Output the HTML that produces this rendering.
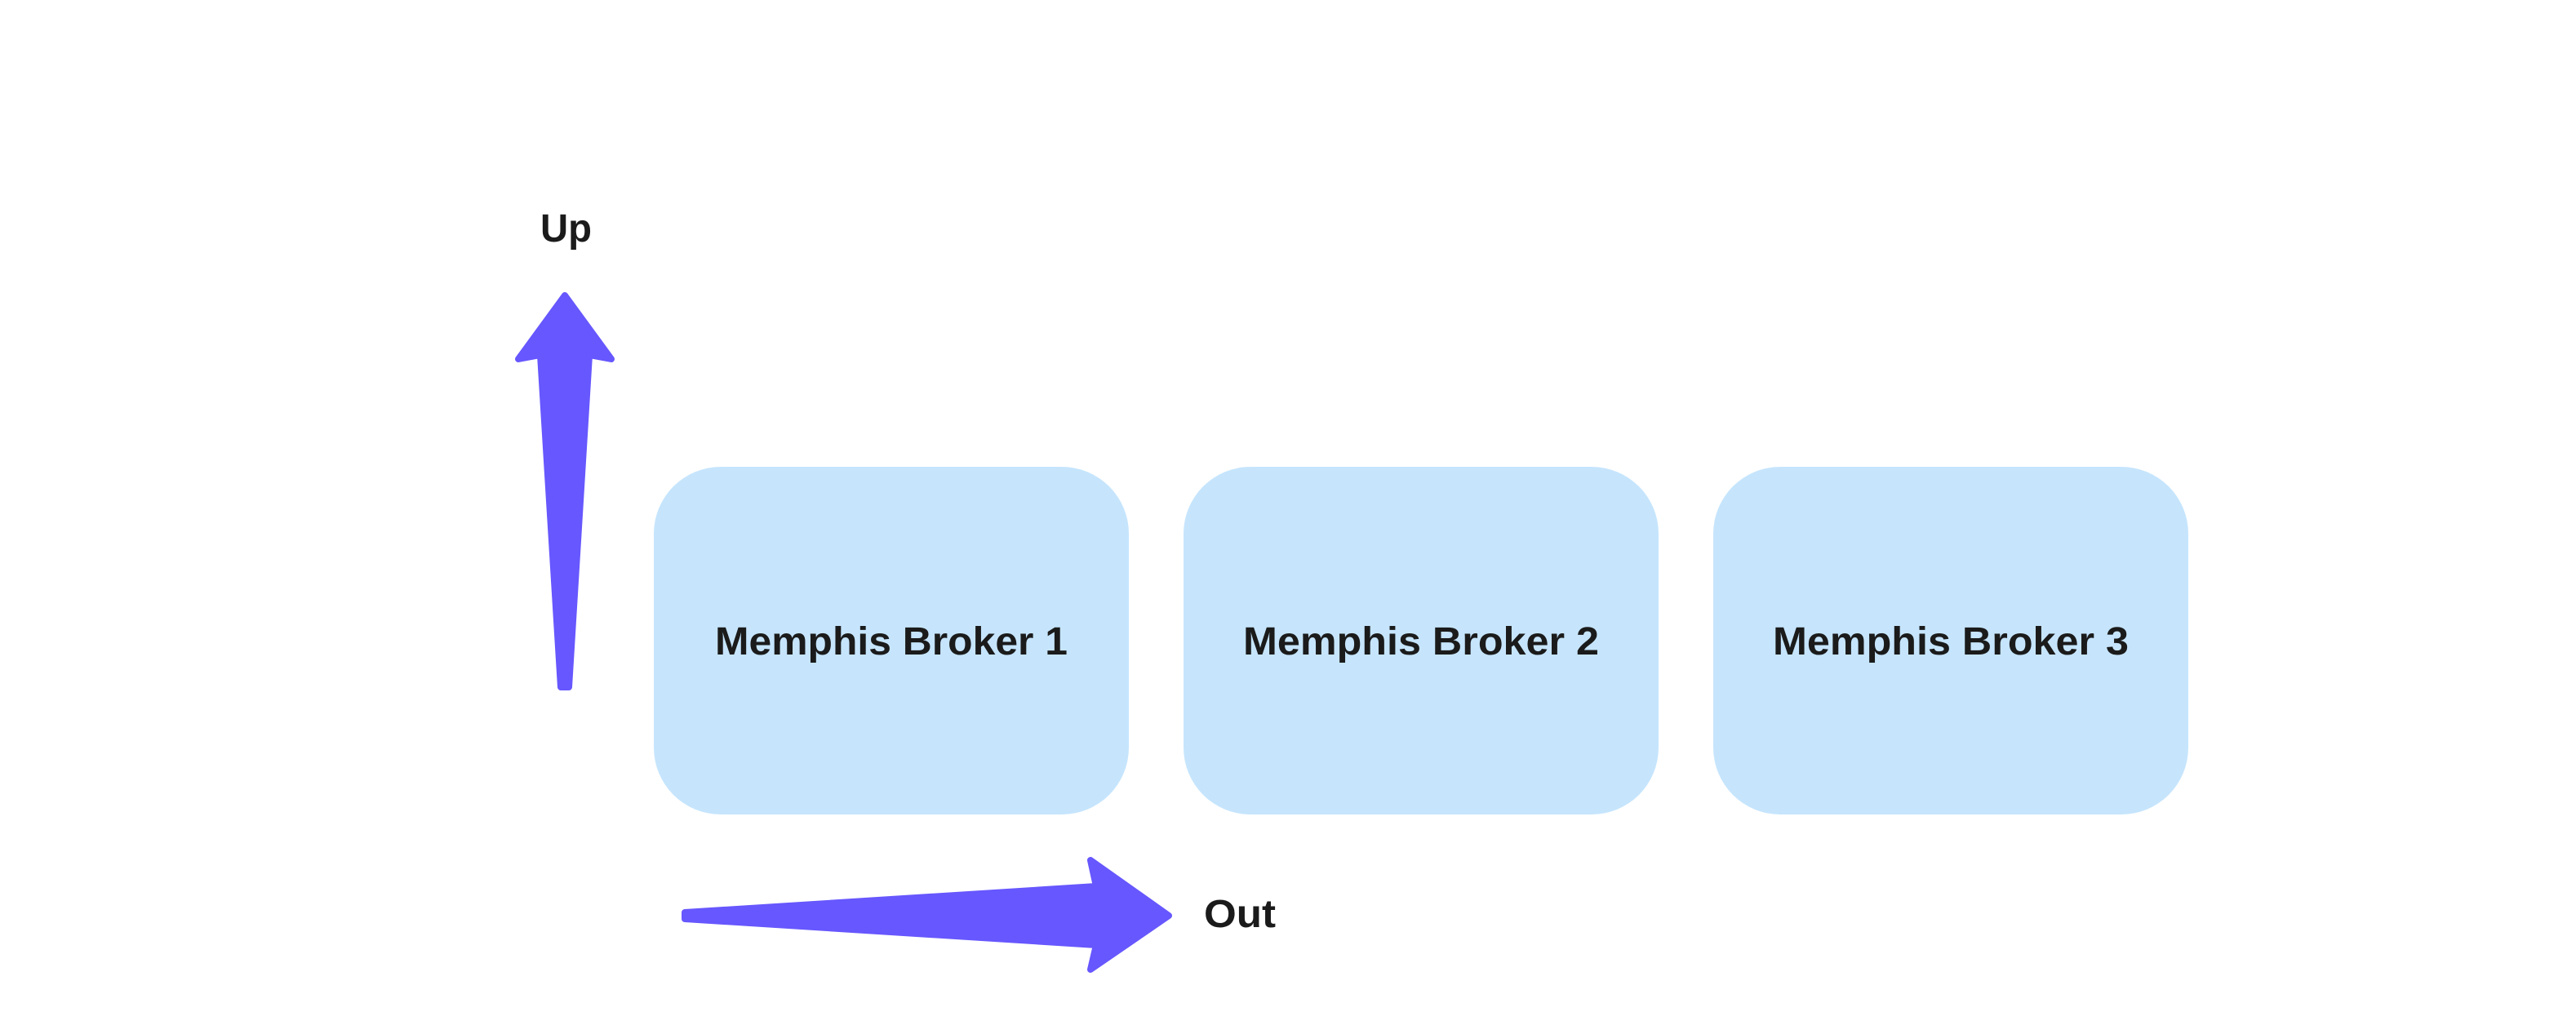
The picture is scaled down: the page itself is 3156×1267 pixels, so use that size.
<!DOCTYPE html>
<html><head><meta charset="utf-8"><style>
html,body{margin:0;padding:0;background:#fff;}
svg{display:block;}
text{font-family:"Liberation Sans",sans-serif;font-weight:bold;fill:#1b1b1b;}
</style></head><body>
<svg width="3156" height="1267" viewBox="0 0 3156 1267" xmlns="http://www.w3.org/2000/svg">
<rect x="0" y="0" width="3156" height="1267" fill="#fff"/>
<rect x="801" y="572" width="582" height="426" rx="82" ry="82" fill="#c6e5fd"/>
<rect x="1450" y="572" width="582" height="426" rx="82" ry="82" fill="#c6e5fd"/>
<rect x="2099" y="572" width="582" height="426" rx="82" ry="82" fill="#c6e5fd"/>
<text x="1092" y="802" font-size="48" text-anchor="middle" textLength="432" lengthAdjust="spacingAndGlyphs">Memphis Broker 1</text>
<text x="1741" y="802" font-size="48" text-anchor="middle" textLength="436" lengthAdjust="spacingAndGlyphs">Memphis Broker 2</text>
<text x="2390" y="802" font-size="48" text-anchor="middle" textLength="436" lengthAdjust="spacingAndGlyphs">Memphis Broker 3</text>
<text x="662" y="296" font-size="48" textLength="63" lengthAdjust="spacingAndGlyphs">Up</text>
<text x="1475" y="1136" font-size="48" textLength="88" lengthAdjust="spacingAndGlyphs">Out</text>
<polygon points="692,362 749,440 722,435 697,842 687,842 662,435 635,440" fill="#6657fe" stroke="#6657fe" stroke-width="8" stroke-linejoin="round"/>
<polygon points="1432,1122 1336,1188 1343,1158 839,1126 839,1118 1343,1086 1336,1054" fill="#6657fe" stroke="#6657fe" stroke-width="8" stroke-linejoin="round"/>
</svg>
</body></html>
